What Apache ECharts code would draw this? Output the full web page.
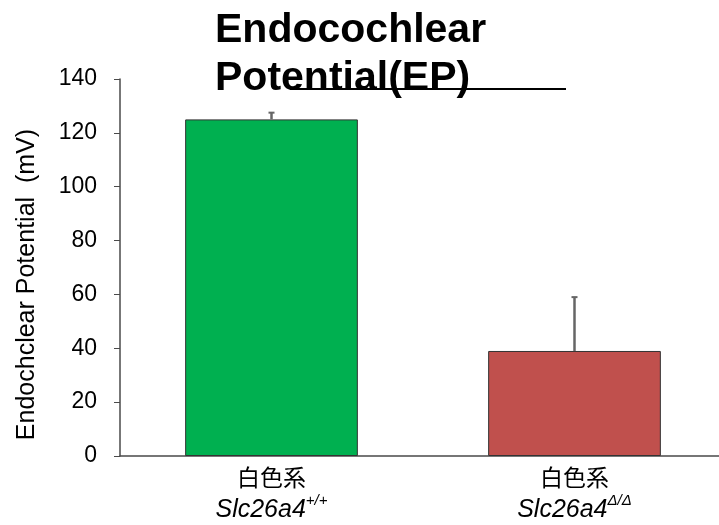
<!DOCTYPE html>
<html><head><meta charset="utf-8">
<script src="https://cdn.jsdelivr.net/npm/echarts@6/dist/echarts.min.js"></script>
<style>html,body{margin:0;padding:0;background:#fff;overflow:hidden}#c{width:726px;height:525px}</style>
</head><body><div id="c"></div>
<script>
var categories = ['白色系\nSlc26a4 +/+', '白色系\nSlc26a4 Δ/Δ'];
var strains = ['白色系', '白色系'];
var genes = ['Slc26a4', 'Slc26a4'];
var genotypes = ['+/+', 'Δ/Δ'];
var meanEP = [125, 39];
var errUp = [2.5, 20];
var barColors = ['#00B050', '#C0504D'];
var yTicks = [0, 20, 40, 60, 80, 100, 120, 140];

var chart = echarts.init(document.getElementById('c'));
chart.setOption({
  animation: false,
  title: {
    text: 'Endocochlear\nPotential(EP)',
    left: 210, top: 2,
    textStyle: {fontFamily: 'Liberation Sans', fontWeight: 'bold', fontSize: 41, lineHeight: 48, color: '#000'}
  },
  grid: {left: 120, right: 0, top: 79, bottom: 69},
  xAxis: {
    type: 'category', data: categories,
    axisLine: {lineStyle: {color: '#4a4a4a', width: 1.5}},
    axisTick: {show: false},
    axisLabel: {
      margin: 6,
      formatter: function (v, i) {
        return '{a|' + strains[i] + '}\n{g|' + genes[i] + '}{s|' + genotypes[i] + '}';
      },
      rich: {
        a: {fontFamily: 'Noto Sans CJK JP', fontSize: 23, color: '#000', lineHeight: 31},
        g: {fontFamily: 'Liberation Sans', fontStyle: 'italic', fontSize: 25, color: '#000', lineHeight: 35},
        s: {fontFamily: 'Liberation Sans', fontStyle: 'italic', fontSize: 15, color: '#000', verticalAlign: 'top', lineHeight: 35, padding: [0, 0, 12, 0]}
      }
    }
  },
  yAxis: {
    type: 'value', min: 0, max: 140, interval: 20,
    name: 'Endochclear Potential  (mV)', nameLocation: 'middle', nameGap: 80, nameRotate: 90,
    nameTextStyle: {fontFamily: 'Liberation Sans', fontSize: 25, color: '#000', padding: [0, 34, 0, 0]},
    axisLine: {show: true, lineStyle: {color: '#4a4a4a', width: 1.5}},
    axisTick: {show: true, length: 6, lineStyle: {color: '#4a4a4a'}},
    splitLine: {show: false},
    axisLabel: {
      margin: 23, fontFamily: 'Liberation Sans', fontSize: 23, color: '#000',
      formatter: function (v) { return yTicks.indexOf(v) >= 0 ? String(v) : ''; }
    }
  },
  series: [{
    type: 'bar', barWidth: '57%',
    data: meanEP.map(function (v, i) {
      return {value: v, itemStyle: {color: barColors[i], borderColor: '#333', borderWidth: 1}};
    }),
    z: 2
  }, {
    type: 'custom',
    data: meanEP.map(function (v, i) { return [i, v, v + errUp[i]]; }),
    renderItem: function (params, api) {
      var base = api.coord([api.value(0), api.value(1)]);
      var top = api.coord([api.value(0), api.value(2)]);
      return {type: 'group', children: [
        {type: 'line', shape: {x1: base[0], y1: base[1], x2: top[0], y2: top[1]}, style: {stroke: '#666', lineWidth: 2.5}},
        {type: 'line', shape: {x1: top[0] - 3, y1: top[1], x2: top[0] + 3, y2: top[1]}, style: {stroke: '#666', lineWidth: 2}}
      ]};
    },
    z: 3
  }],
  graphic: [{
    type: 'line', shape: {x1: 290, y1: 89, x2: 566, y2: 89},
    style: {stroke: '#000', lineWidth: 2}, z: 10
  }]
});
</script></body></html>
